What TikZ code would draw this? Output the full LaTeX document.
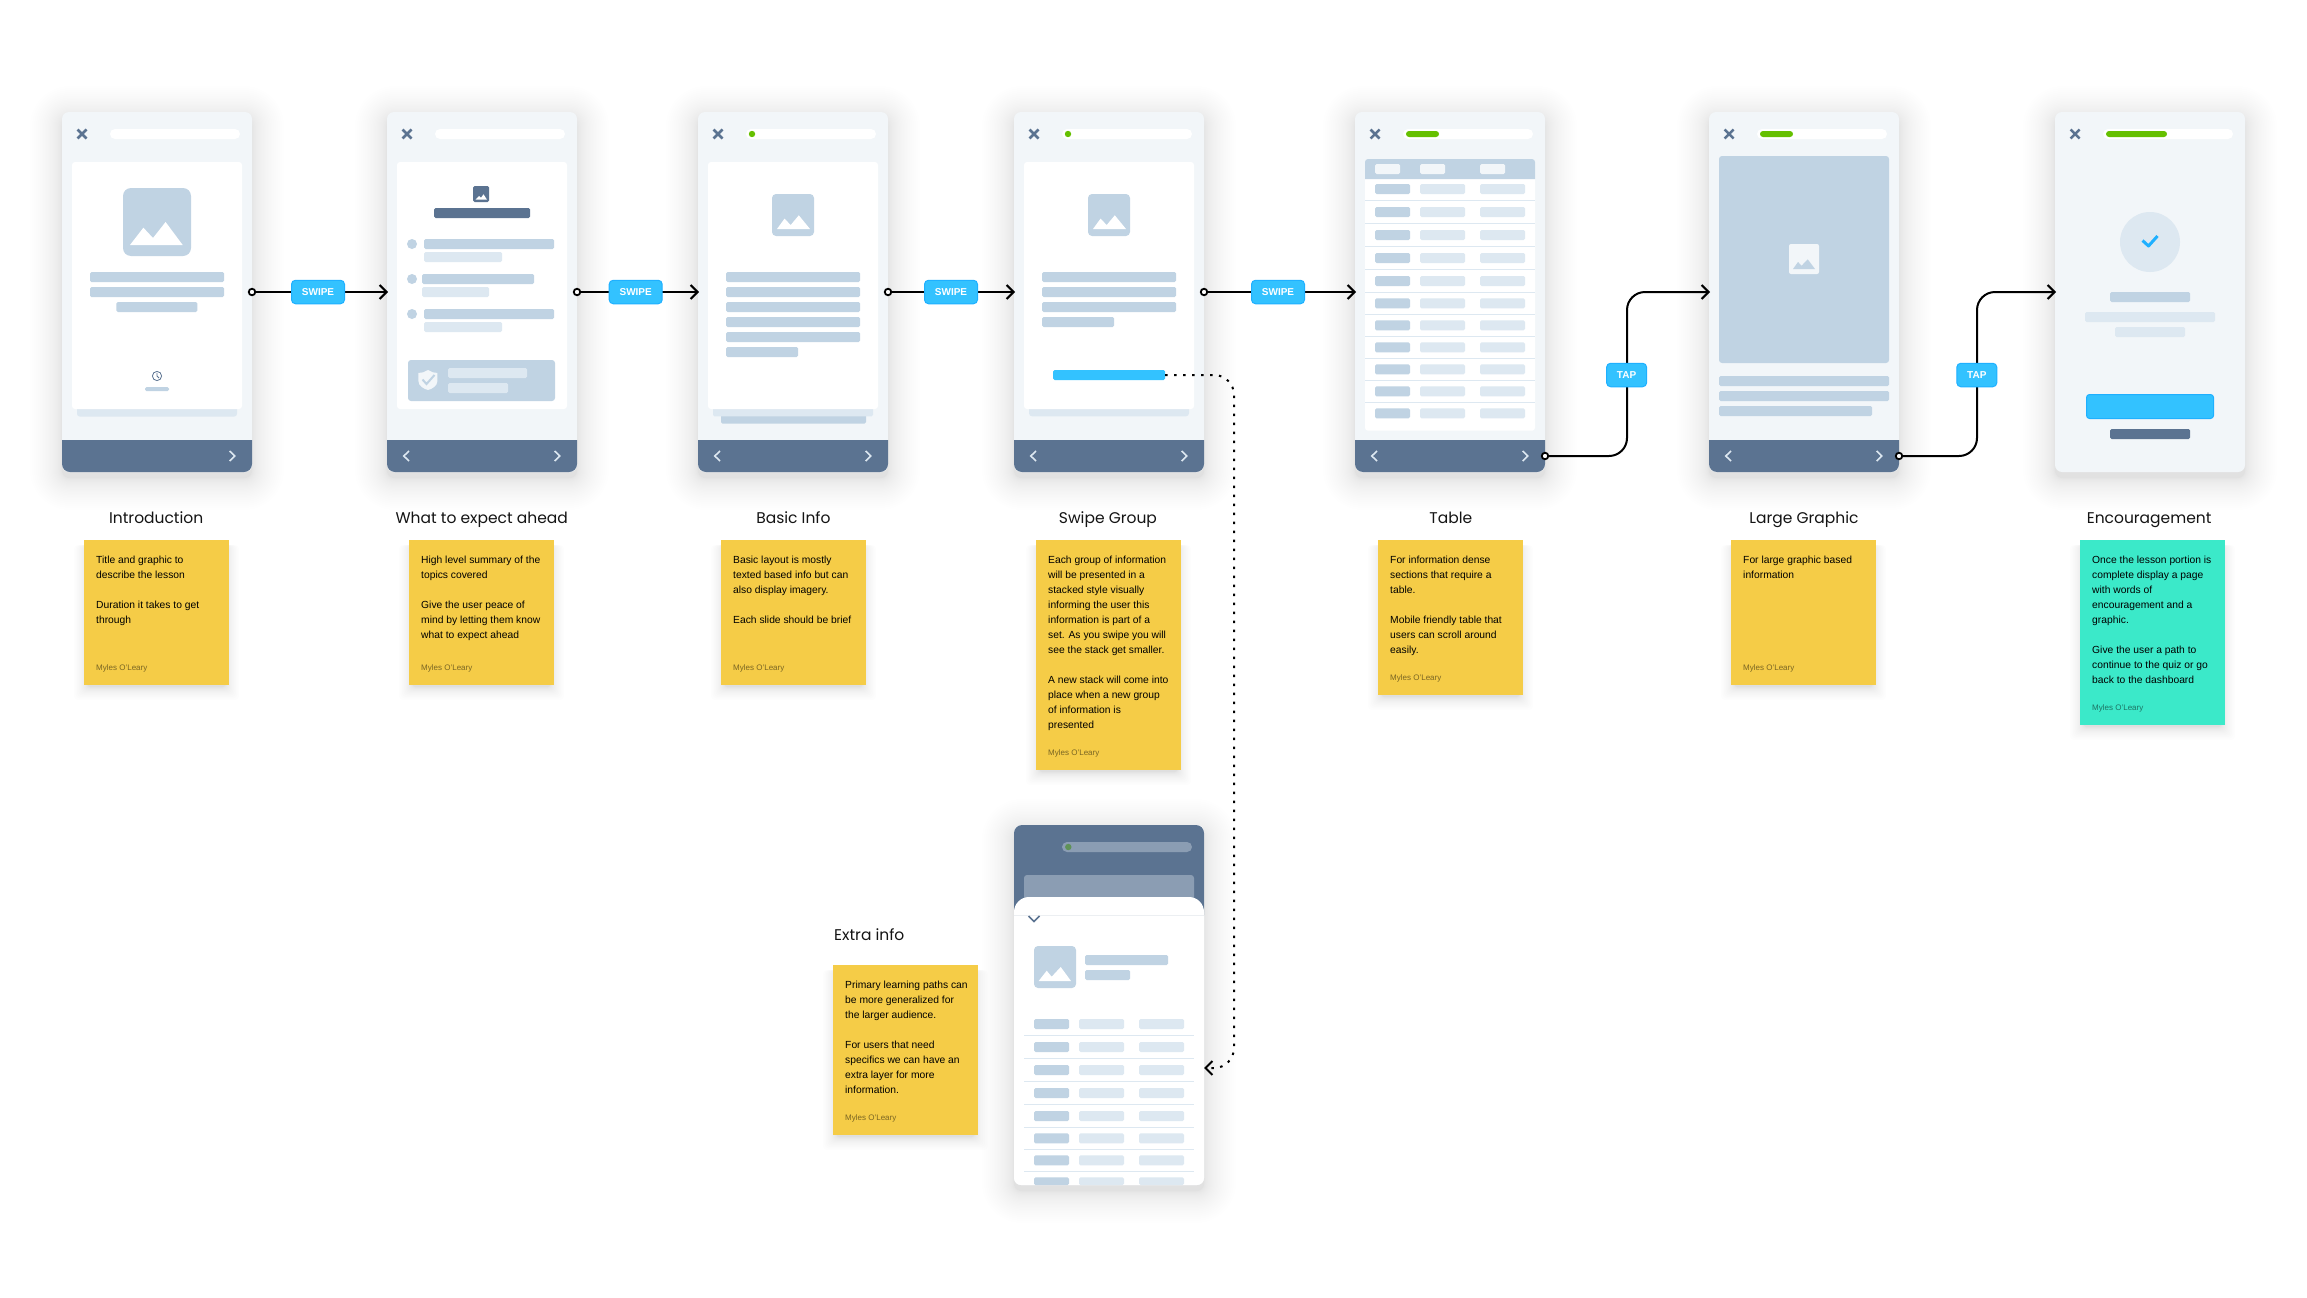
\documentclass[tikz,border=0pt]{standalone}
\usepackage{fontspec}
\setmainfont{Liberation Sans}
\newfontfamily\titlefont{Poppins}
\usetikzlibrary{arrows.meta,calc}
\definecolor{cmid}{HTML}{C0D3E3}
\definecolor{clight}{HTML}{DDE8F1}
\definecolor{cpale}{HTML}{F2F6F9}
\definecolor{cdark}{HTML}{5B7391}
\definecolor{cfade}{HTML}{8B9DB3}
\definecolor{cblue}{HTML}{33C2FF}
\definecolor{cblueedge}{HTML}{1FB0FF}
\definecolor{cgreen}{HTML}{65C000}
\definecolor{cyellow}{HTML}{F5CC47}
\definecolor{cteal}{HTML}{3BE9C9}
\tikzset{
  screenbox/.style={fill=cpale,rounded corners=7pt,minimum width=190pt,minimum height=360pt,inner sep=0pt,outer sep=0pt,anchor=north west},
  notebox/.style={fill=cyellow,minimum width=145pt,inner sep=0pt,outer sep=0pt,anchor=north west},
  notebody/.style={inner sep=0pt,anchor=north west,align=left,font=\fontsize{10.3}{15}\selectfont,execute at begin node={\rule{0pt}{8pt}}},
  noteauthor/.style={inner sep=0pt,anchor=west,font=\fontsize{8}{10}\selectfont,text opacity=.5},
  titletext/.style={inner sep=0pt,anchor=base,font=\titlefont\fontsize{15.5}{18}\selectfont,text=black!92},
  badge/.style={fill=cblue,draw=cblueedge,line width=1pt,rounded corners=4pt,text=white,inner sep=0pt,minimum height=23.5pt,font=\bfseries\fontsize{10}{12}\selectfont},
  startdot/.style={circle,draw=black,fill=white,line width=1.8pt,minimum size=6.5pt,inner sep=0pt,outer sep=0pt},
  conn/.style={draw=black,line width=2pt,shorten >=-1pt,-{Straight Barb[length=7pt,width=14pt,line width=2pt]}},
  dotconn/.style={draw=black,line width=2pt,dash pattern=on 2.5pt off 6.5pt,-{Straight Barb[length=7pt,width=14pt,line width=2pt,sep=0pt]}},
  mid/.style={fill=cmid,rounded corners=1.5pt},
  lite/.style={fill=clight,rounded corners=1.5pt},
  drk/.style={fill=cdark,rounded corners=1.5pt},
  chev/.style={draw=clight,line width=1.6pt},
}
% name, left, top
\newcommand\mkscreen[3]{%
  \foreach \i in {30,29,...,1}{%
    \pgfmathsetmacro\k{32*(\i/30)^2}%
    \pgfmathsetmacro\rad{\k+8}%
    \fill[black,opacity=.0038,rounded corners=\rad pt] ({#2-\k},{#3-\k+6}) rectangle ({#2+190+\k},{#3+360+\k+6});}
  \node[screenbox] (#1) at (#2,#3) {};
}
\newcommand\mktop[1]{%
  \draw[cdark,line width=2.5pt] (15.5,17.5) -- (24.5,26.5) (24.5,17.5) -- (15.5,26.5);
  \fill[white,rounded corners=5pt] (48,17) rectangle (178,27);
  #1
}
\newcommand\greendot{\fill[cgreen] (54,22) circle (3.2pt);}
\newcommand\greenbar[1]{\fill[cgreen,rounded corners=3pt] (51,19) rectangle (#1,25);}
\newcommand\mkbar{%
  \fill[cdark] (0,328) -- (190,328) [rounded corners=8pt] -- (190,360) -- (0,360) [sharp corners] -- cycle;
  \draw[chev] (167.6,339) -- (172.8,344) -- (167.6,349);
}
\newcommand\mkback{\draw[chev] (22,339) -- (16.8,344) -- (22,349);}
\newcommand\mkrows[1]{%
  \foreach \y in {#1}{
    \fill[mid] (20,\y) rectangle (55,\y+10);
    \fill[lite] (65,\y) rectangle (110,\y+10);
    \fill[lite] (125,\y) rectangle (170,\y+10);
  }
}
\newcommand\mkseps[1]{%
  \foreach \y in {#1}{\fill[clight] (10,\y-.5) rectangle (180,\y+.5);}
}
% name, left, top, height, colour, text
\newcommand\mknote[6]{%
  \foreach \i in {16,15,...,1}{%
    \pgfmathsetmacro\k{13*(\i/16)^2}%
    \fill[black,opacity=.0065,rounded corners=4pt] ({#2-\k+3},{#3+5}) rectangle ({#2+145+\k-3},{#3+#4+\k+2});}
  \node[notebox,fill=#5,minimum height=#4pt] (#1) at (#2,#3) {};
  \node[notebody] (#1t) at ([xshift=12pt,yshift=-15.6pt]#1.north west) {#6};
  \node[noteauthor] (#1a) at ([xshift=12pt,yshift=16.3pt]#1.south west) {Myles O'Leary};
}
\begin{document}
\begin{tikzpicture}[x=1pt,y=-1pt]
\useasboundingbox (0,0) rectangle (2307,1298);
\fill[white] (0,0) rectangle (2307,1298);

% ---------- Screen 1
\mkscreen{s1}{62}{112}
\begin{scope}[shift={(62,112)}]
  \mktop{}
  \fill[lite,rounded corners=3pt] (15,290) rectangle (175,304.7);
  \fill[white,rounded corners=3pt] (10,50) rectangle (180,297);
  \fill[cmid,rounded corners=8pt] (61,76) rectangle (129,144);
  \fill[white] (68,133) -- (81.4,115.7) -- (91,126) -- (103.6,110) -- (120.7,133) -- cycle;
  \fill[mid] (28,160) rectangle (162,170);
  \fill[mid] (28,175) rectangle (162,185);
  \fill[mid] (54.3,190) rectangle (135.4,200);
  \draw[cdark,line width=.8pt] (95,264) circle (4.6pt) (95,261) -- (95,264) -- (97,266);
  \fill[mid] (83,275) rectangle (107,279);
  \mkbar
\end{scope}

% ---------- Screen 2
\mkscreen{s2}{387}{112}
\begin{scope}[shift={(387,112)}]
  \mktop{}
  \fill[white,rounded corners=3pt] (10,50) rectangle (180,297);
  \fill[cdark,rounded corners=1.5pt] (86,74) rectangle (102,90);
  \fill[white] (88.5,87.7) -- (92,84) -- (94,85.7) -- (96.5,82.3) -- (100,87.7) -- cycle;
  \fill[drk] (47,96) rectangle (143,106);
  \fill[cmid] (25,132) circle (5pt);
  \fill[mid] (37,127) rectangle (167,137);
  \fill[lite] (37,140) rectangle (115,150);
  \fill[cmid] (25,167) circle (5pt);
  \fill[mid] (35,162) rectangle (147,172);
  \fill[lite] (35,175) rectangle (102,185);
  \fill[cmid] (25,202) circle (5pt);
  \fill[mid] (37,197) rectangle (167,207);
  \fill[lite] (37,210) rectangle (115,220);
  \fill[cmid,rounded corners=3pt] (21,248) rectangle (168,289);
  \fill[cpale] (31.4,261) .. controls (35,261) and (38,260) .. (41,258) .. controls (44,260) and (47,261) .. (50.4,261) -- (50.4,269) .. controls (50.4,274) and (45,277) .. (41,278) .. controls (37,277) and (31.4,274) .. (31.4,269) -- cycle;
  \draw[cmid,line width=2pt] (35.5,267.5) -- (39.5,272) -- (47.5,263);
  \fill[lite] (61,256) rectangle (140,266);
  \fill[lite] (61,271) rectangle (121,281);
  \mkbar\mkback
\end{scope}

% ---------- Screen 3
\mkscreen{s3}{698}{112}
\begin{scope}[shift={(698,112)}]
  \mktop{\greendot}
  \fill[cmid,rounded corners=1.5pt] (23,300) rectangle (168,311.7);
  \fill[lite,rounded corners=1.5pt] (15,290) rectangle (175,304.3);
  \fill[white,rounded corners=3pt] (10,50) rectangle (180,297);
  \fill[cmid,rounded corners=4pt] (74,82) rectangle (116,124);
  \fill[white] (79,117) -- (86.5,106.7) -- (92.7,113) -- (100.8,103.3) -- (112,117) -- cycle;
  \foreach \y in {160,175,190,205,220}{\fill[mid] (28,\y) rectangle (162,\y+10);}
  \fill[mid] (28,235) rectangle (100,245);
  \mkbar\mkback
\end{scope}

% ---------- Screen 4
\mkscreen{s4}{1014}{112}
\begin{scope}[shift={(1014,112)}]
  \mktop{\greendot}
  \fill[lite,rounded corners=3pt] (15,290) rectangle (175,304.3);
  \fill[white,rounded corners=3pt] (10,50) rectangle (180,297);
  \fill[cmid,rounded corners=4pt] (74,82) rectangle (116,124);
  \fill[white] (79,117) -- (86.5,106.7) -- (92.7,113) -- (100.8,103.3) -- (112,117) -- cycle;
  \foreach \y in {160,175,190}{\fill[mid] (28,\y) rectangle (162,\y+10);}
  \fill[mid] (28,205) rectangle (100,215);
  \node[fill=cblue,rounded corners=1.5pt,minimum width=112pt,minimum height=10pt,inner sep=0pt,outer sep=0pt] (act) at (95,263) {};
  \mkbar\mkback
\end{scope}

% ---------- Screen 5
\mkscreen{s5}{1355}{112}
\begin{scope}[shift={(1355,112)}]
  \mktop{\greenbar{84}}
  \fill[white,rounded corners=3pt] (10,47) rectangle (180,318.7);
  \fill[cmid] (10,67) [rounded corners=3pt] -- (10,47) -- (180,47) [sharp corners] -- (180,67) -- cycle;
  \foreach \a/\b in {20/45,65/90,125/150}{\fill[cpale,rounded corners=1.5pt] (\a,52) rectangle (\b,62);}
  \mkrows{72,95,118,141,164,186.3,208.3,230.3,252.3,274.3,296.3}
  \mkseps{88.3,111.3,134.3,157.3,180.3,202.3,224.3,246.3,268.3,290.3}
  \mkbar\mkback
\end{scope}

% ---------- Screen 6
\mkscreen{s6}{1709}{112}
\begin{scope}[shift={(1709,112)}]
  \mktop{\greenbar{84}}
  \fill[cmid,rounded corners=3pt] (10,44) rectangle (180,251);
  \fill[cpale,rounded corners=2pt] (80,132) rectangle (110,162);
  \fill[cmid] (84,157) -- (89,150) -- (92.6,153.7) -- (98.7,147.3) -- (106,157) -- cycle;
  \fill[mid] (10,264) rectangle (180,274);
  \fill[mid] (10,279) rectangle (180,289);
  \fill[mid] (10,294) rectangle (163,304);
  \mkbar\mkback
\end{scope}

% ---------- Screen 7
\mkscreen{s7}{2055}{112}
\begin{scope}[shift={(2055,112)}]
  \mktop{\greenbar{112}}
  \fill[clight] (95,130) circle (30pt);
  \draw[cblueedge,line width=3pt,line join=round] (87.5,128.5) -- (93.5,134) -- (102.5,124);
  \fill[mid] (55,180) rectangle (135,190);
  \fill[lite] (30,200) rectangle (160,210);
  \fill[lite] (60,215) rectangle (130,225);
  \fill[cblue,draw=cblueedge,line width=1pt,rounded corners=3pt] (31.5,282.5) rectangle (158.5,306.5);
  \fill[drk] (55,317) rectangle (135,327);
\end{scope}

% ---------- Screen 8 (extra info)
\mkscreen{s8}{1014}{825}
\begin{scope}[shift={(1014,825)}]
  \fill[white,rounded corners=7pt] (0,0) rectangle (190,360);
  \fill[cdark] (0,90) [rounded corners=8pt] -- (0,0) -- (190,0) [sharp corners] -- (190,90) -- cycle;
  \fill[cfade,rounded corners=5pt] (48,17) rectangle (178,27);
  \fill[cgreen!40!cdark] (54.3,22) circle (3.2pt);
  \fill[cfade,rounded corners=3pt] (10,50) rectangle (180,80);
  \fill[white] (0,90) [rounded corners=15pt] -- (0,72) -- (190,72) [sharp corners] -- (190,90) -- cycle;
  \draw[cdark,line width=1.6pt] (14.5,91) -- (20,96.5) -- (25.5,91);
  \fill[cmid,rounded corners=4pt] (20,121) rectangle (62,163);
  \fill[white] (24.7,156) -- (32.7,145.7) -- (37.7,151.7) -- (46.7,142) -- (57,156) -- cycle;
  \fill[mid] (71,130) rectangle (154,140);
  \fill[mid] (71,145) rectangle (116,155);
  \mkrows{194,217,240,263,286,308.3,330.3}
  \fill[mid] (20,352.3) rectangle (55,360);
  \fill[lite] (65,352.3) rectangle (110,360);
  \fill[lite] (125,352.3) rectangle (170,360);
  \mkseps{210.3,233.3,256.3,279.3,302.3,324.3,346.3}
\end{scope}

% ---------- Titles
\node[titletext] (t1) at (156.2,523.8) {Introduction};
\node[titletext] (t2) at (481.7,523.8) {What to expect ahead};
\node[titletext] (t3) at (793.4,523.8) {Basic Info};
\node[titletext] (t4) at (1107.9,523.8) {Swipe Group};
\node[titletext] (t5) at (1450.8,523.8) {Table};
\node[titletext] (t6) at (1803.9,523.8) {Large Graphic};
\node[titletext] (t7) at (2149.1,523.8) {Encouragement};
\node[titletext,anchor=base west] (t8) at (834,940.5) {Extra info};

% ---------- Notes
\mknote{n1}{84}{540}{145}{cyellow}{Title and graphic to\\describe the lesson\\[15pt]Duration it takes to get\\through}
\mknote{n2}{409}{540}{145}{cyellow}{High level summary of the\\topics covered\\[15pt]Give the user peace of\\mind by letting them know\\what to expect ahead}
\mknote{n3}{721}{540}{145}{cyellow}{Basic layout is mostly\\texted based info but can\\also display imagery.\\[15pt]Each slide should be brief}
\mknote{n4}{1036}{540}{230}{cyellow}{Each group of information\\will be presented in a\\stacked style visually\\informing the user this\\information is part of a\\set. As you swipe you will\\see the stack get smaller.\\[15pt]A new stack will come into\\place when a new group\\of information is\\presented}
\mknote{n5}{1378}{540}{155}{cyellow}{For information dense\\sections that require a\\table.\\[15pt]Mobile friendly table that\\users can scroll around\\easily.}
\mknote{n6}{1731}{540}{145}{cyellow}{For large graphic based\\information}
\mknote{n7}{2080}{540}{185}{cteal}{Once the lesson portion is\\complete display a page\\with words of\\encouragement and a\\graphic.\\[15pt]Give the user a path to\\continue to the quiz or go\\back to the dashboard}
\mknote{n8}{833}{965}{170}{cyellow}{Primary learning paths can\\be more generalized for\\the larger audience.\\[15pt]For users that need\\specifics we can have an\\extra layer for more\\information.}

% ---------- Connectors
\node[startdot] (d1) at (s1.east) {};
\node[startdot] (d2) at (s2.east) {};
\node[startdot] (d3) at (s3.east) {};
\node[startdot] (d4) at (s4.east) {};
\node[startdot] (d5) at (1545,456) {};
\node[startdot] (d6) at (1899,456) {};
\coordinate (v5) at (1627,292);
\coordinate (v6) at (1977,292);
\coordinate (v8) at (1234,1068);

\draw[conn] (d1) -- (s2.west);
\draw[conn] (d2) -- (s3.west);
\draw[conn] (d3) -- (s4.west);
\draw[conn] (d4) -- (s5.west);
\draw[conn,rounded corners=18pt] (d5) -| (v5) -- (s6.west);
\draw[conn,rounded corners=18pt] (d6) -| (v6) -- (s7.west);
\draw[dotconn,rounded corners=20pt] (act.east) -| (v8) -- (s8.east |- v8);

\node[badge,minimum width=53pt] (b1) at (318,292) {SWIPE};
\node[badge,minimum width=53pt] (b2) at (635.7,292) {SWIPE};
\node[badge,minimum width=53pt] (b3) at (951,292) {SWIPE};
\node[badge,minimum width=53pt] (b4) at (1278,292) {SWIPE};
\node[badge,minimum width=40pt] (b5) at (1626.6,375) {TAP};
\node[badge,minimum width=40pt] (b6) at (1976.8,375) {TAP};
\end{tikzpicture}
\end{document}
